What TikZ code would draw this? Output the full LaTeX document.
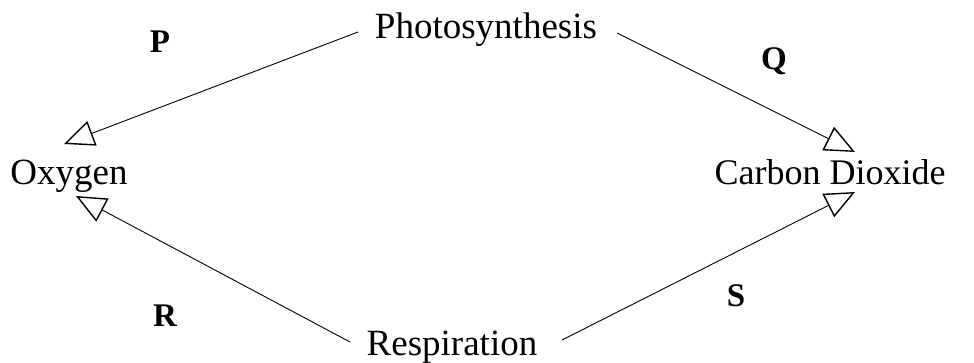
\documentclass[tikz,border=0pt]{standalone}
\usepackage{fontspec}
\setmainfont{Liberation Serif}
\usetikzlibrary{arrows.meta}
\tikzset{
  word/.style={anchor=base, inner sep=0pt, font=\fontsize{37}{42}\selectfont},
  lbl/.style={anchor=base, inner sep=0pt, font=\fontsize{33}{36}\selectfont\bfseries},
  link/.style={line width=0.9pt, -{Triangle[open, length=30pt, width=26pt, line width=1.4pt]}}
}
\begin{document}
\begin{tikzpicture}[x=1pt,y=-1pt]
\useasboundingbox (0,0) rectangle (974,363);
\node[word] (photo) at (486,39) {Photosynthesis};
\node[word] (resp) at (452,355) {Respiration};
\node[word] (oxy) at (69,185) {Oxygen};
\node[word, font=\fontsize{36}{42}\selectfont] (co2) at (830,185) {Carbon Dioxide};
\node[lbl] (P) at (160,53) {P};
\node[lbl] (Q) at (774,70) {Q};
\node[lbl] (R) at (165,326) {R};
\node[lbl] (S) at (736,306) {S};
\coordinate (pl) at (358,32);
\coordinate (pr) at (617,33);
\coordinate (rl) at (350,342);
\coordinate (rr) at (562,340);
\coordinate (oxt) at (64,144);
\coordinate (oxb) at (76,196);
\coordinate (cot) at (855,152);
\coordinate (cob) at (855,192);
\draw[link] (pl) -- (oxt);
\draw[link] (pr) -- (cot);
\draw[link] (rl) -- (oxb);
\draw[link] (rr) -- (cob);
\end{tikzpicture}
\end{document}
